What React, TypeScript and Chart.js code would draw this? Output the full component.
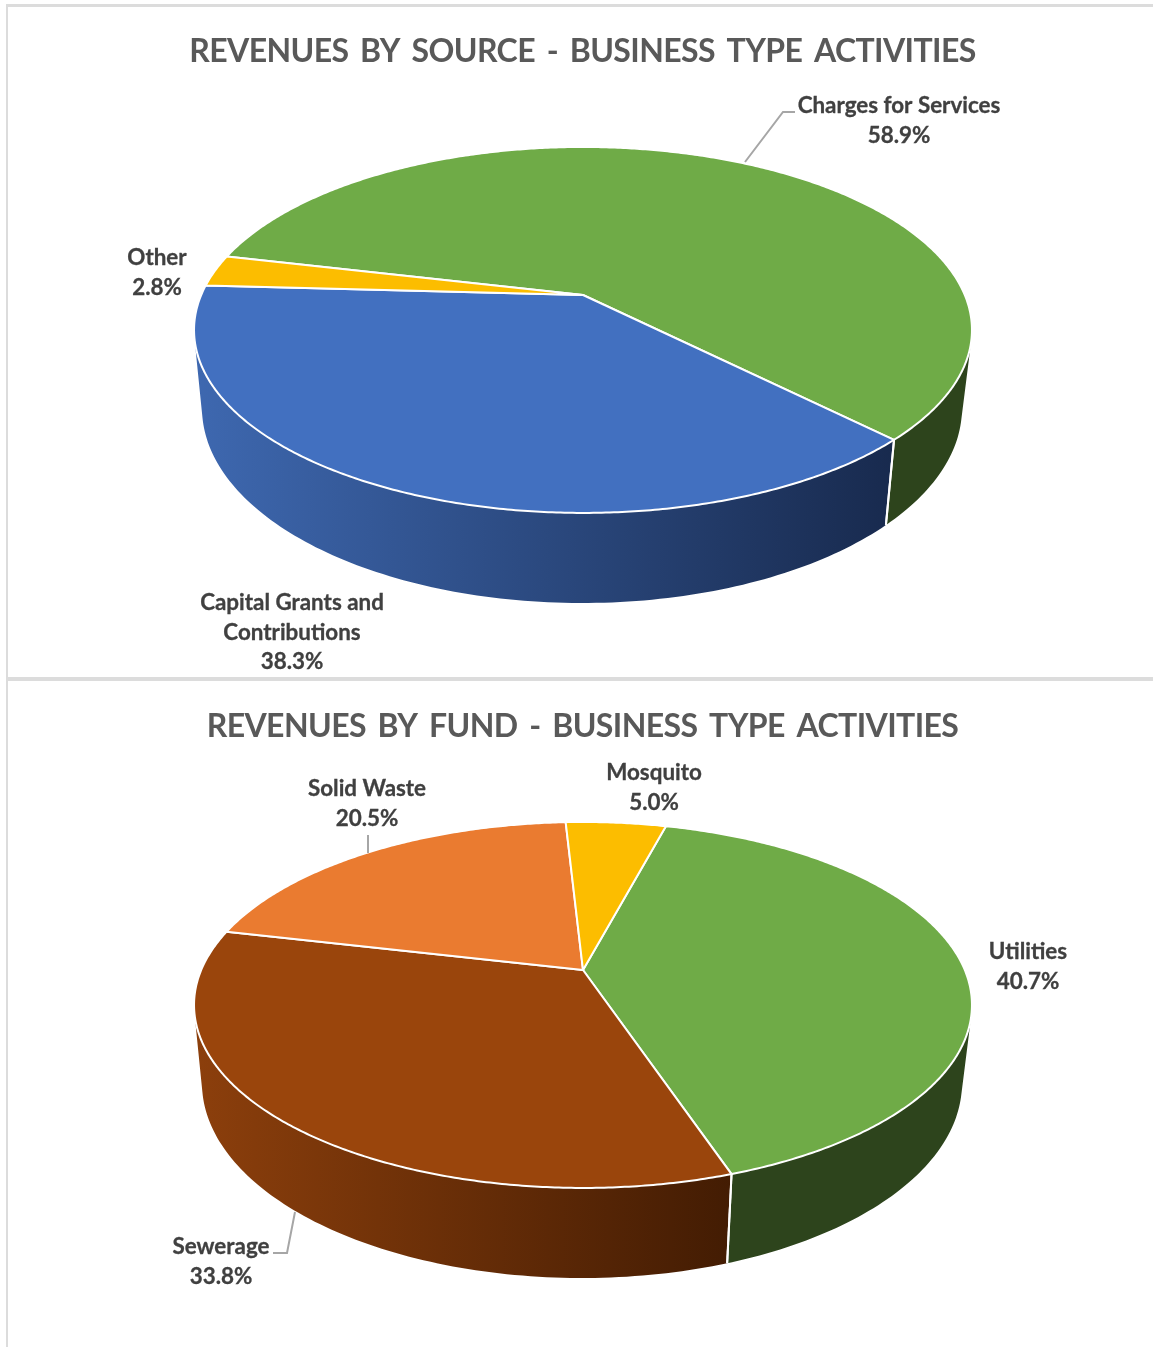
import React, { useEffect, useRef } from "react";
import { Chart, registerables } from "chart.js";

Chart.register(...registerables);

// ---- data ----
const sourceTitle = "REVENUES BY SOURCE - BUSINESS TYPE ACTIVITIES";
const sourceLabels: (string | string[])[] = ["Charges for Services", ["Capital Grants and", "Contributions"], "Other"];
const sourceValues = [58.9, 38.3, 2.8];
const sourceColors = ["#6fab47", "#4270c0", "#fcbd00"];
const sourceWalls = [["#2d441c", "#2d441c"], ["#3e68b0", "#182a4e"], ["#7f6000", "#7f6000"]];

const fundTitle = "REVENUES BY FUND - BUSINESS TYPE ACTIVITIES";
const fundLabels: (string | string[])[] = ["Utilities", "Sewerage", "Solid Waste", "Mosquito"];
const fundValues = [40.7, 33.8, 20.5, 5.0];
const fundColors = ["#6fab47", "#9a450c", "#ea7b30", "#fcbd00"];
const fundWalls = [["#2d441c", "#2d441c"], ["#8c3f0c", "#431c03"], ["#8c4a1c", "#8c4a1c"], ["#7f6000", "#7f6000"]];

// ---- layout (page pixels) ----
const sourceLabelAt = [[899, 106], [292, 603], [157, 258]];
const fundLabelAt = [[1028, 952], [221, 1247], [367, 789], [654, 773]];
const sourceLeaders = [[[745, 162], [783, 112], [795, 112]]];
const fundLeaders = [[[368, 835], [368, 853]], [[295, 1212], [287, 1253], [273, 1253]]];

const K = -0.191, A = 381.8, B = 176.3;
const TOP = { dy: 35, rx: 389, ry: 183 };
const BASE = { dx: -1, dy: 113, rx: 380, ry: 195 };

function topPoint(theta: number) {
  const u = Math.cos(theta), v = Math.sin(theta);
  const w = 1 + K * v;
  return { x: (A * u) / w, y: (B * v) / w };
}
function basePoint(theta: number) {
  const p = topPoint(theta);
  const phi = Math.atan2((p.y - TOP.dy) / TOP.ry, p.x / TOP.rx);
  return { x: BASE.dx + BASE.rx * Math.cos(phi), y: BASE.dy + BASE.ry * Math.sin(phi) };
}

function perspectivePie(cfg: any) {
  return {
    id: "perspectivePie",
    beforeDraw(chart: any) {
      const ctx = chart.ctx;
      ctx.wordSpacing = "4.5px";
      ctx.letterSpacing = "-0.6px";
    },
    beforeDatasetDraw(chart: any) {
      const ctx = chart.ctx as CanvasRenderingContext2D;
      const arcs = chart.getDatasetMeta(0).data as any[];
      const step = Math.PI / 180;
      ctx.save();
      ctx.translate(cfg.apex[0] - cfg.left, cfg.apex[1] - cfg.top);

      // side wall of every slice
      arcs.forEach((arc, i) => {
        const path = new Path2D();
        let minX = Infinity, maxX = -Infinity;
        for (let t = arc.startAngle; t < arc.endAngle; t += step) {
          const t2 = Math.min(t + step, arc.endAngle);
          if (Math.sin(t) < -0.3 && Math.sin(t2) < -0.3) continue;
          const a = topPoint(t), b = topPoint(t2), c = basePoint(t2), d = basePoint(t);
          let q = [a, b, c, d];
          let area = 0;
          q.forEach((p, j) => {
            const n = q[(j + 1) % 4];
            area += p.x * n.y - n.x * p.y;
          });
          if (area < 0) q = q.reverse();
          q.forEach((p, j) => (j ? path.lineTo(p.x, p.y) : path.moveTo(p.x, p.y)));
          path.closePath();
          q.forEach((p) => {
            minX = Math.min(minX, p.x);
            maxX = Math.max(maxX, p.x);
          });
        }
        if (minX === Infinity) return;
        const g = ctx.createLinearGradient(minX, 0, maxX, 0);
        g.addColorStop(0, cfg.walls[i][0]);
        g.addColorStop(1, cfg.walls[i][1]);
        ctx.fillStyle = g;
        ctx.fill(path);
      });

      // seams between front walls
      ctx.strokeStyle = "#ffffff";
      ctx.lineWidth = 2;
      arcs.forEach((arc) => {
        [arc.startAngle, arc.endAngle].forEach((t) => {
          if (Math.sin(t) <= 0.1) return;
          const a = topPoint(t), b = basePoint(t);
          ctx.beginPath();
          ctx.moveTo(a.x, a.y);
          ctx.lineTo(b.x, b.y);
          ctx.stroke();
        });
      });

      // top faces
      arcs.forEach((arc) => {
        ctx.beginPath();
        ctx.moveTo(0, 0);
        for (let t = arc.startAngle; ; t += step / 2) {
          const tt = Math.min(t, arc.endAngle);
          const p = topPoint(tt);
          ctx.lineTo(p.x, p.y);
          if (tt >= arc.endAngle) break;
        }
        ctx.closePath();
        ctx.fillStyle = arc.options.backgroundColor;
        ctx.fill();
        ctx.strokeStyle = "#ffffff";
        ctx.lineWidth = 2;
        ctx.lineJoin = "round";
        ctx.stroke();
      });
      ctx.restore();
      return false;
    },
    afterDraw(chart: any) {
      const ctx = chart.ctx as CanvasRenderingContext2D;
      ctx.save();
      ctx.translate(-cfg.left, -cfg.top);
      ctx.wordSpacing = "0px";
      ctx.letterSpacing = "0px";
      ctx.strokeStyle = "#a6a6a6";
      ctx.lineWidth = 2;
      cfg.leaders.forEach((pts: number[][]) => {
        ctx.beginPath();
        pts.forEach((p, j) => (j ? ctx.lineTo(p[0], p[1]) : ctx.moveTo(p[0], p[1])));
        ctx.stroke();
      });
      ctx.fillStyle = "#404040";
      ctx.strokeStyle = "#404040";
      ctx.lineWidth = 0.3;
      ctx.font = "bold 22.4px Lato";
      ctx.textAlign = "center";
      ctx.textBaseline = "middle";
      const labels = chart.data.labels as (string | string[])[];
      const values = chart.data.datasets[0].data as number[];
      labels.forEach((name, i) => {
        const lines = ([] as string[]).concat(name, values[i].toFixed(1) + "%");
        const [x, y] = cfg.labelAt[i];
        lines.forEach((line, j) => {
          ctx.fillText(line, x, y + j * 29.5);
          ctx.strokeText(line, x, y + j * 29.5);
        });
      });
      ctx.restore();
    },
  };
}

function Pie3D(props: any) {
  const ref = useRef<HTMLCanvasElement>(null);
  useEffect(() => {
    const chart = new Chart(ref.current as HTMLCanvasElement, {
      type: "pie",
      data: {
        labels: props.labels,
        datasets: [{ data: props.values, backgroundColor: props.colors, borderColor: "#ffffff", borderWidth: 2 }],
      },
      options: {
        animation: false,
        responsive: false,
        devicePixelRatio: 1,
        rotation: props.rotation,
        plugins: {
          legend: { display: false },
          tooltip: { enabled: false },
          title: {
            display: true,
            text: props.title,
            color: "#595959",
            font: { family: "Lato", size: 32, weight: "bold", lineHeight: 1.2 },
            padding: { top: props.titlePad, bottom: 0 },
          },
        },
      },
      plugins: [perspectivePie(props)],
    } as any);
    return () => chart.destroy();
  }, []);
  return (
    <canvas
      ref={ref}
      width={props.width}
      height={props.height}
      style={{ position: "absolute", left: props.left, top: props.top, display: "block", filter: "blur(0.4px)" }}
    />
  );
}

const line = (style: React.CSSProperties) => <div style={{ position: "absolute", background: "#dcdcdc", ...style }} />;

export default function App() {
  return (
    <div style={{ position: "absolute", left: 0, top: 0, width: 1153, height: 1347, overflow: "hidden", background: "#fff" }}>
      {line({ left: 6, top: 4, width: 1147, height: 3 })}
      {line({ left: 6, top: 4, width: 2, height: 1343 })}
      {line({ left: 6, top: 677, width: 1147, height: 4 })}
      <Pie3D
        title={sourceTitle}
        labels={sourceLabels}
        values={sourceValues}
        colors={sourceColors}
        walls={sourceWalls}
        labelAt={sourceLabelAt}
        leaders={sourceLeaders}
        rotation={283.2}
        apex={[583, 295]}
        left={12}
        top={7}
        width={1141}
        height={670}
        titlePad={25}
      />
      <Pie3D
        title={fundTitle}
        labels={fundLabels}
        values={fundValues}
        colors={fundColors}
        walls={fundWalls}
        labelAt={fundLabelAt}
        leaders={fundLeaders}
        rotation={14.9}
        apex={[583, 970]}
        left={12}
        top={682}
        width={1141}
        height={665}
        titlePad={25}
      />
    </div>
  );
}
